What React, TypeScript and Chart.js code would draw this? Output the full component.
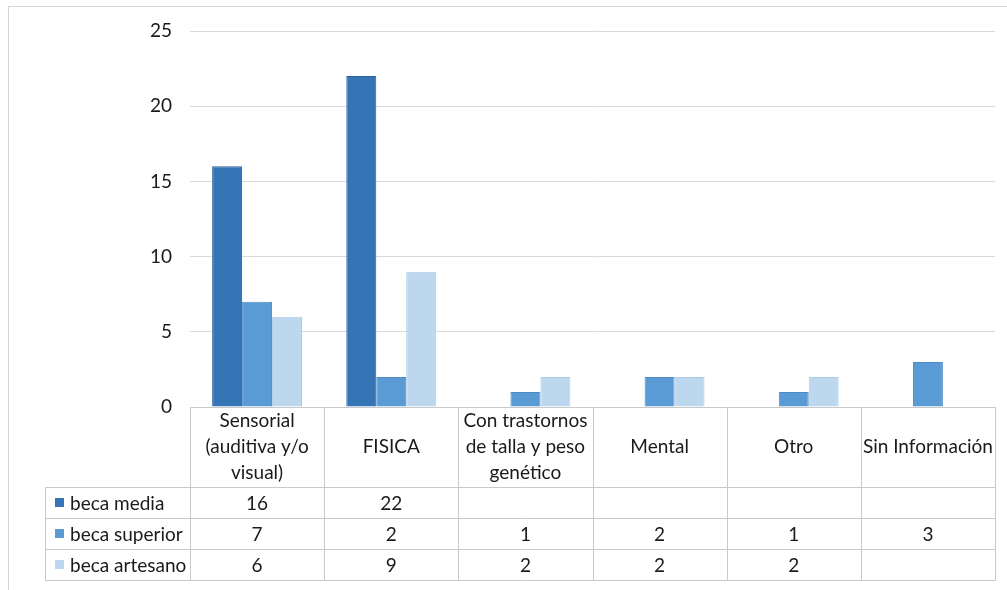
import React, { useEffect, useRef } from 'react';
import { Chart, registerables } from 'chart.js';

Chart.register(...registerables);

const categories: (string | string[])[] = [
  ['Sensorial', '(auditiva y/o', 'visual)'],
  'FISICA',
  ['Con trastornos', 'de talla y peso', 'genético'],
  'Mental',
  'Otro',
  'Sin Información',
];
const seriesNames = ['beca media', 'beca superior', 'beca artesano'];
const becaMedia: (number | null)[] = [16, 22, null, null, null, null];
const becaSuperior: (number | null)[] = [7, 2, 1, 2, 1, 3];
const becaArtesano: (number | null)[] = [6, 9, 2, 2, 2, null];
const yMin = 0;
const yMax = 25;
const yStep = 5;

const FONT = 'Lato, "Noto Sans", sans-serif';
const colors = ['#3574b5', '#5b9bd5', '#bdd7ee'];
const borders = ['#2b629b', '#4c8bc4', '#aecbe6'];
const LINE = '#c9c9c9';
const TEXT = '#1a1a1a';
const ROW_H = 31;
const HEADER_H = 80;
const LEGEND_LEFT = 45;

// single-line labels are padded to three lines so they sit in the middle of the header cell
const headerLabels = categories.map((c) => (Array.isArray(c) ? c : ['', c, '']));

const tablePlugin = {
  id: 'dataTable',
  afterDraw(chart: any) {
    const ctx = chart.ctx as CanvasRenderingContext2D;
    const area = chart.chartArea;
    const xs = chart.scales.x;
    const series = [becaMedia, becaSuperior, becaArtesano];
    const n = categories.length;
    const top = area.bottom;
    const headerBottom = top + HEADER_H;
    const tableBottom = headerBottom + ROW_H * series.length;
    const px = (v: number) => Math.round(v) + 0.5;

    ctx.save();
    ctx.strokeStyle = '#d6d6d6';
    ctx.lineWidth = 1;
    ctx.strokeRect(8.5, 6.5, chart.width + 20, chart.height + 20);

    ctx.strokeStyle = LINE;
    ctx.beginPath();
    ctx.moveTo(px(area.left), px(top));
    ctx.lineTo(px(area.right), px(top));
    for (let r = 0; r <= series.length; r++) {
      const y = px(headerBottom + r * ROW_H);
      ctx.moveTo(px(LEGEND_LEFT), y);
      ctx.lineTo(px(area.right), y);
    }
    for (let i = 0; i <= n; i++) {
      let x: number;
      if (i === 0) x = area.left;
      else if (i === n) x = area.right;
      else x = (xs.getPixelForValue(i - 1) + xs.getPixelForValue(i)) / 2;
      ctx.moveTo(px(x), px(top));
      ctx.lineTo(px(x), px(tableBottom));
    }
    ctx.moveTo(px(LEGEND_LEFT), px(headerBottom));
    ctx.lineTo(px(LEGEND_LEFT), px(tableBottom));
    ctx.stroke();

    ctx.font = `19px ${FONT}`;
    ctx.textBaseline = 'middle';
    series.forEach((vals, s) => {
      const yc = headerBottom + s * ROW_H + ROW_H / 2;
      ctx.fillStyle = colors[s];
      ctx.fillRect(55, Math.round(yc - 5), 9, 9);
      ctx.fillStyle = TEXT;
      ctx.textAlign = 'left';
      ctx.fillText(seriesNames[s], 70, yc + 1);
      ctx.textAlign = 'center';
      vals.forEach((v, i) => {
        if (v === null || v === undefined) return;
        ctx.fillText(String(v), xs.getPixelForValue(i), yc + 1);
      });
    });
    ctx.restore();
  },
};

export default function App() {
  const ref = useRef<HTMLCanvasElement | null>(null);

  useEffect(() => {
    if (!ref.current) return;
    const mk = (i: number, data: (number | null)[]) => ({
      label: seriesNames[i],
      data,
      backgroundColor: colors[i],
      borderColor: borders[i],
      borderWidth: 1,
      categoryPercentage: 0.67,
      barPercentage: 1,
    });
    const chart = new Chart(ref.current, {
      type: 'bar',
      data: {
        labels: headerLabels as any,
        datasets: [mk(0, becaMedia), mk(1, becaSuperior), mk(2, becaArtesano)],
      },
      options: {
        animation: false,
        responsive: false,
        layout: { padding: { left: 0, right: 12, top: 31, bottom: 10 + ROW_H * 3 } },
        plugins: { legend: { display: false }, tooltip: { enabled: false } },
        scales: {
          x: {
            grid: { display: false, drawTicks: false },
            border: { display: false },
            ticks: {
              font: { family: FONT, size: 19, lineHeight: 1.37 },
              color: TEXT,
              padding: 1,
              maxRotation: 0,
              autoSkip: false,
            },
            afterFit(scale: any) {
              scale.height = HEADER_H;
            },
          },
          y: {
            min: yMin,
            max: yMax,
            grid: { color: '#d9d9d9', drawTicks: false },
            border: { display: false },
            ticks: {
              stepSize: yStep,
              font: { family: FONT, size: 19 },
              color: TEXT,
              padding: 18,
            },
            afterFit(scale: any) {
              scale.width = 190;
            },
          },
        },
      },
      plugins: [tablePlugin],
    });
    return () => chart.destroy();
  }, []);

  return (
    <div style={{ position: 'absolute', left: 0, top: 0, width: 1007, height: 590, background: '#fff' }}>
      <canvas ref={ref} width={1007} height={590} />
    </div>
  );
}
